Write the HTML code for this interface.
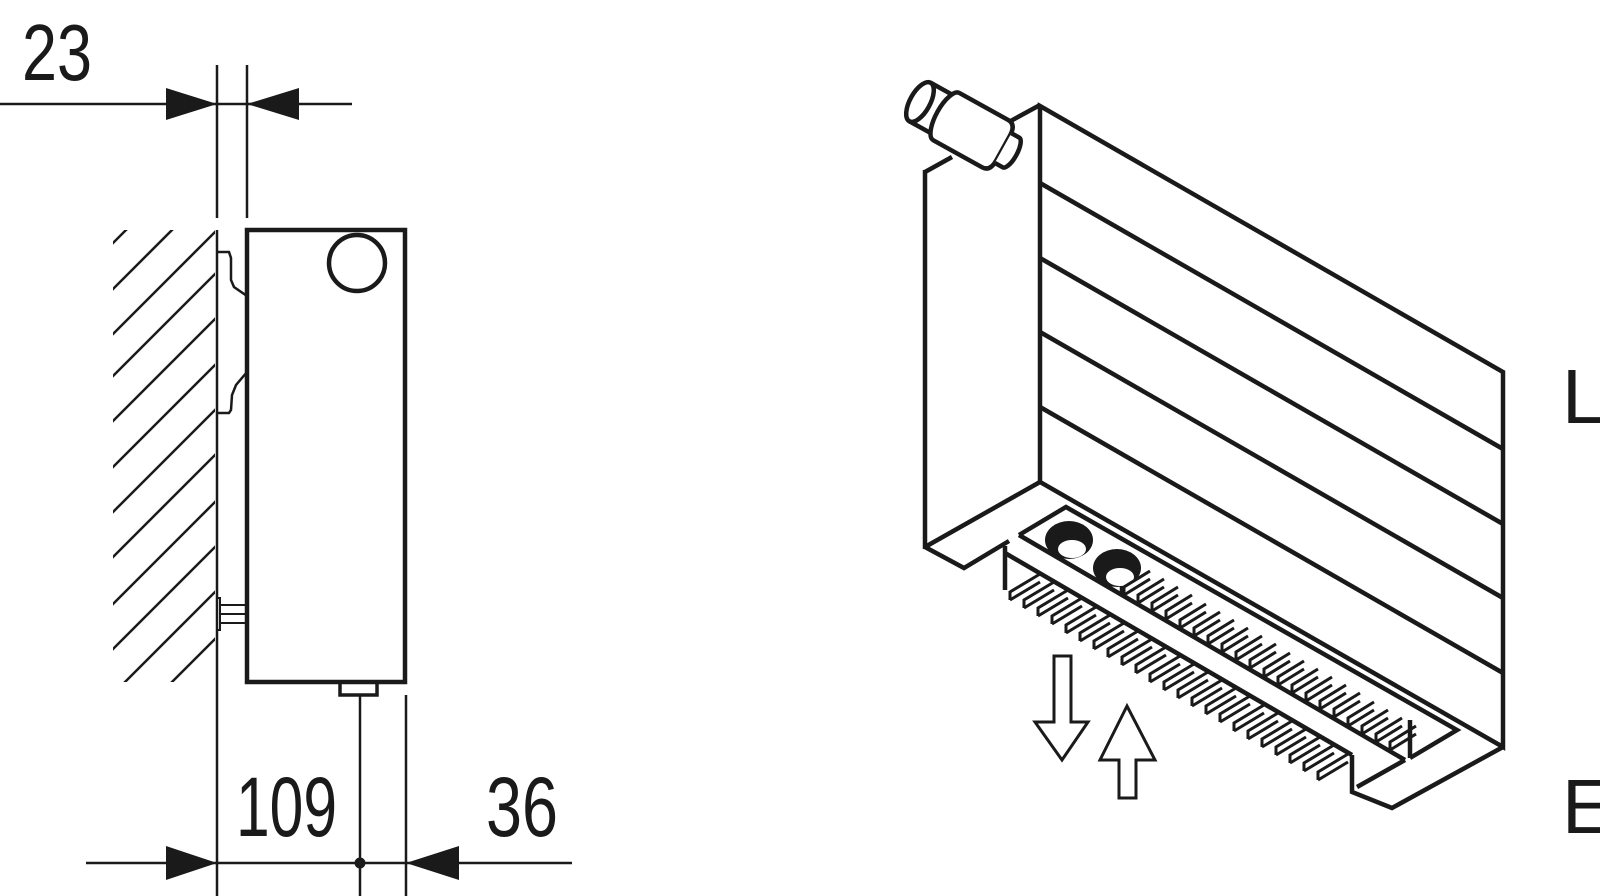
<!DOCTYPE html>
<html><head><meta charset="utf-8"><style>html,body{margin:0;padding:0;background:#fff}svg{display:block}</style></head>
<body>
<svg width="1600" height="896" viewBox="0 0 1600 896" xmlns="http://www.w3.org/2000/svg" font-family="Liberation Sans, sans-serif">
<defs>
<clipPath id="hc"><rect x="113" y="230" width="102" height="452"/></clipPath>
<g id="fin"><path d="M0,0 L0,-8 L30,-26 M0,0 L30,-18" fill="none" stroke="#1a1a1a" stroke-width="3"/></g>
<g id="fin2"><path d="M0,0 L0,-8 L26,-24 M0,0 L26,-16" fill="none" stroke="#1a1a1a" stroke-width="3"/></g>
</defs>
<g stroke="#1a1a1a" fill="none">
<line x1="0" y1="104" x2="352" y2="104" stroke-width="2.5"/>
<line x1="217" y1="65" x2="217" y2="218" stroke-width="2.5"/>
<line x1="247" y1="65" x2="247" y2="218" stroke-width="2.5"/>
<polygon points="166,88 217,104 166,120" fill="#1a1a1a" stroke="none"/>
<polygon points="299,88 247,104 299,120" fill="#1a1a1a" stroke="none"/>
<line x1="217" y1="230" x2="217" y2="896" stroke-width="2.5"/>
<g clip-path="url(#hc)" stroke-width="2.5">
<line x1="217" y1="139" x2="57" y2="299"/>
<line x1="217" y1="185" x2="57" y2="345"/>
<line x1="217" y1="230" x2="57" y2="390"/>
<line x1="217" y1="272" x2="57" y2="432"/>
<line x1="217" y1="317" x2="57" y2="477"/>
<line x1="217" y1="363" x2="57" y2="523"/>
<line x1="217" y1="408" x2="57" y2="568"/>
<line x1="217" y1="453" x2="57" y2="613"/>
<line x1="217" y1="500" x2="57" y2="660"/>
<line x1="217" y1="545" x2="57" y2="705"/>
<line x1="217" y1="590" x2="57" y2="750"/>
<line x1="217" y1="637" x2="57" y2="797"/>
<line x1="217" y1="682" x2="57" y2="842"/>
</g>
<polyline points="217,252 229,252 231,258 231,280 234,287 247,296" stroke-width="2.5"/>
<polyline points="247,372 236,385 232,395 231,410 229,413 217,413" stroke-width="2.5"/>
<rect x="247" y="230" width="158" height="452" stroke-width="4.5"/>
<circle cx="357" cy="263" r="28" stroke-width="4.5"/>
<rect x="217" y="598" width="3" height="32" stroke-width="2"/>
<line x1="220" y1="605" x2="247" y2="605" stroke-width="2"/>
<line x1="220" y1="614" x2="247" y2="614" stroke-width="2"/>
<line x1="220" y1="623" x2="247" y2="623" stroke-width="2"/>
<rect x="340" y="682" width="37" height="13" stroke-width="3.5"/>
<line x1="360" y1="695" x2="360" y2="896" stroke-width="2.5"/>
<line x1="406" y1="695" x2="406" y2="896" stroke-width="2.5"/>
<line x1="86" y1="863" x2="572" y2="863" stroke-width="2.5"/>
<circle cx="360" cy="863" r="5.5" fill="#1a1a1a" stroke="none"/>
<polygon points="166,846 217,863 166,880" fill="#1a1a1a" stroke="none"/>
<polygon points="459,846 406,863 459,880" fill="#1a1a1a" stroke="none"/>

<g stroke-width="4.5" stroke-linejoin="miter">
<polygon points="1040,106 1503,372 1503,747 1040,482"/>
<line x1="1040" y1="183" x2="1503" y2="449"/>
<line x1="1040" y1="258" x2="1503" y2="524"/>
<line x1="1040" y1="332" x2="1503" y2="598"/>
<line x1="1040" y1="407" x2="1503" y2="673"/>
<polyline points="925,172 952,157"/>
<polyline points="1007,123 1040,105"/>
<line x1="925" y1="170" x2="925" y2="549"/>
<line x1="925" y1="547" x2="1040" y2="482"/>
<polyline points="925,547 964,568 1009,541"/>
<polyline points="1005,546 1005,590"/>
<polyline points="1019,535 1066,507 1457,730 1410,758"/>
<line x1="1019" y1="535" x2="1405" y2="760"/>
<line x1="1005" y1="553" x2="1352" y2="755"/>
<polyline points="1405,760 1357,787"/>
<polyline points="1352,755 1352,792 1392,808 1503,747"/>
<line x1="1410" y1="720" x2="1410" y2="758"/>
<line x1="1122" y1="565" x2="1122" y2="595"/>
</g>
<ellipse cx="1069" cy="540" rx="24" ry="19" fill="#1a1a1a" stroke="none"/>
<ellipse cx="1072" cy="549" rx="14" ry="9" fill="#fff" stroke="none"/>
<ellipse cx="1117" cy="568" rx="24" ry="19" fill="#1a1a1a" stroke="none"/>
<ellipse cx="1120" cy="577" rx="14" ry="9" fill="#fff" stroke="none"/>
<polygon points="1054,656 1071,656 1071,722 1088,722 1062,760 1035,722 1054,722" stroke-width="3" stroke-linejoin="miter"/>
<polygon points="1119,798 1136,798 1136,760 1155,760 1127,706 1100,760 1119,760" stroke-width="3" stroke-linejoin="miter"/>
<g transform="translate(920,102) rotate(29)" stroke-width="4.5" fill="#fff">
<path d="M0,-22 L28,-22 A9,22 0 0 1 28,22 L0,22"/>
<ellipse cx="0" cy="0" rx="10" ry="22"/>
<path d="M30,-27 L86,-27 Q95,-27 95,-14 L95,14 Q95,27 86,27 L30,27 A10,27 0 0 1 30,-27 Z"/>
<path d="M95,-17 L104,-17 A6,17 0 0 1 104,17 L95,17"/>
</g>
</g>
<g transform="translate(0,26)">
<use href="#fin" x="1010" y="574"/><use href="#fin" x="1024" y="582"/><use href="#fin" x="1038" y="590"/><use href="#fin" x="1052" y="598"/><use href="#fin" x="1066" y="607"/><use href="#fin" x="1080" y="615"/><use href="#fin" x="1094" y="623"/><use href="#fin" x="1108" y="631"/><use href="#fin" x="1122" y="639"/><use href="#fin" x="1136" y="647"/><use href="#fin" x="1150" y="656"/><use href="#fin" x="1164" y="664"/><use href="#fin" x="1178" y="672"/><use href="#fin" x="1192" y="680"/><use href="#fin" x="1206" y="688"/><use href="#fin" x="1220" y="696"/><use href="#fin" x="1234" y="705"/><use href="#fin" x="1248" y="713"/><use href="#fin" x="1262" y="721"/><use href="#fin" x="1276" y="729"/><use href="#fin" x="1290" y="737"/><use href="#fin" x="1304" y="745"/><use href="#fin" x="1318" y="754"/>
</g>
<g>
<use href="#fin2" x="1124" y="595"/><use href="#fin2" x="1138" y="603"/><use href="#fin2" x="1152" y="611"/><use href="#fin2" x="1166" y="619"/><use href="#fin2" x="1180" y="628"/><use href="#fin2" x="1194" y="636"/><use href="#fin2" x="1208" y="644"/><use href="#fin2" x="1222" y="652"/><use href="#fin2" x="1236" y="660"/><use href="#fin2" x="1250" y="668"/><use href="#fin2" x="1264" y="677"/><use href="#fin2" x="1278" y="685"/><use href="#fin2" x="1292" y="693"/><use href="#fin2" x="1306" y="701"/><use href="#fin2" x="1320" y="709"/><use href="#fin2" x="1334" y="717"/><use href="#fin2" x="1348" y="726"/><use href="#fin2" x="1362" y="734"/><use href="#fin2" x="1376" y="742"/><use href="#fin2" x="1390" y="750"/>
</g>
<g fill="#1a1a1a">
<text x="22" y="80" font-size="80" textLength="70" lengthAdjust="spacingAndGlyphs">23</text>
<text x="236" y="836" font-size="84" textLength="101" lengthAdjust="spacingAndGlyphs">109</text>
<text x="486" y="836" font-size="84" textLength="72" lengthAdjust="spacingAndGlyphs">36</text>
<text x="1562" y="423" font-size="77">L</text>
<text x="1562" y="833" font-size="77">E</text>
</g>
</svg>
</body></html>
